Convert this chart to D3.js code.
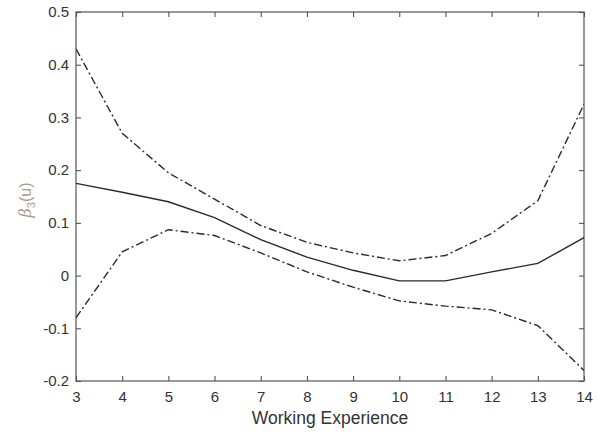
<!DOCTYPE html>
<html>
<head>
<meta charset="utf-8">
<script src="https://cdn.jsdelivr.net/npm/d3@7"></script>
<style>
  body { margin: 0; background: #fff; }
  text { font-family: "Liberation Sans", Arial, sans-serif; }
</style>
</head>
<body>
<svg id="chart" width="597" height="433"></svg>
<script>
// values
var years = [3, 4, 5, 6, 7, 8, 9, 10, 11, 12, 13, 14];
var estimate = [0.175, 0.158, 0.140, 0.110, 0.068, 0.035, 0.010, -0.010, -0.010, 0.007, 0.023, 0.072];
var upperBand = [0.430, 0.270, 0.195, 0.145, 0.095, 0.063, 0.043, 0.028, 0.038, 0.080, 0.142, 0.325];
var lowerBand = [-0.080, 0.045, 0.087, 0.076, 0.043, 0.007, -0.022, -0.048, -0.058, -0.065, -0.095, -0.180];
var yTicks = [-0.2, -0.1, 0, 0.1, 0.2, 0.3, 0.4, 0.5];
var xTicks = [3, 4, 5, 6, 7, 8, 9, 10, 11, 12, 13, 14];

var svg = d3.select("#chart");
// plot box (note: "top" is taken by window.top, so prefix these)
var boxLeft = 76, boxRight = 584, boxTop = 12, boxBottom = 381;

var x = d3.scaleLinear().domain([3, 14]).range([boxLeft, boxRight]);
var y = d3.scaleLinear().domain([-0.2, 0.5]).range([boxBottom, boxTop]);

var axisColor = "#555";
var tickLen = 5;

// box
svg.append("rect")
    .attr("x", boxLeft).attr("y", boxTop)
    .attr("width", boxRight - boxLeft).attr("height", boxBottom - boxTop)
    .attr("fill", "none").attr("stroke", axisColor).attr("stroke-width", 1.2);

// matlab style labels: plain hyphen, bare 0
function fmt(d) {
    if (d === 0) return "0";
    return d3.format(".1f")(d).replace("\u2212", "-");
}

// axes, ticks pointing inward (mirrored on top/right)
var axisB = d3.axisBottom(x).tickValues(xTicks).tickSizeInner(-tickLen).tickSizeOuter(0).tickPadding(10);
var axisT = d3.axisTop(x).tickValues(xTicks).tickSizeInner(-tickLen).tickSizeOuter(0).tickFormat("");
var axisL = d3.axisLeft(y).tickValues(yTicks).tickSizeInner(-tickLen).tickSizeOuter(0).tickPadding(7).tickFormat(fmt);
var axisR = d3.axisRight(y).tickValues(yTicks).tickSizeInner(-tickLen).tickSizeOuter(0).tickFormat("");

function styleAxis(g) {
    g.select(".domain").remove();
    g.selectAll(".tick line").attr("stroke", axisColor).attr("stroke-width", 1.1);
    g.selectAll(".tick text").attr("fill", "#333").style("font-size", "15px");
}

svg.append("g").attr("transform", "translate(0," + boxBottom + ")").call(axisB).call(styleAxis);
svg.append("g").attr("transform", "translate(0," + boxTop + ")").call(axisT).call(styleAxis);
svg.append("g").attr("transform", "translate(" + boxLeft + ",0)").call(axisL).call(styleAxis);
svg.append("g").attr("transform", "translate(" + boxRight + ",0)").call(axisR).call(styleAxis);

// lines
var line = d3.line()
    .x(function(d) { return x(d[0]); })
    .y(function(d) { return y(d[1]); });

function pairs(vals) {
    return years.map(function(yr, i) { return [yr, vals[i]]; });
}

svg.append("clipPath").attr("id", "plotclip")
    .append("rect").attr("x", boxLeft).attr("y", boxTop)
    .attr("width", boxRight - boxLeft).attr("height", boxBottom - boxTop);

var plot = svg.append("g").attr("clip-path", "url(#plotclip)");

[upperBand, lowerBand].forEach(function(band) {
    plot.append("path")
        .datum(pairs(band))
        .attr("d", line)
        .attr("fill", "none")
        .attr("stroke", "#2a2a2a")
        .attr("stroke-width", 1.4)
        .attr("stroke-dasharray", "8,3,2,3");
});

plot.append("path")
    .datum(pairs(estimate))
    .attr("d", line)
    .attr("fill", "none")
    .attr("stroke", "#2a2a2a")
    .attr("stroke-width", 1.4);

// titles
svg.append("text")
    .attr("x", (boxLeft + boxRight) / 2)
    .attr("y", 424)
    .attr("text-anchor", "middle")
    .attr("fill", "#333")
    .style("font-size", "17.5px")
    .text("Working Experience");

var ylab = svg.append("text")
    .attr("transform", "translate(31,200) rotate(-90)")
    .attr("text-anchor", "middle")
    .attr("fill", "#a89a88")
    .style("font-size", "16px");
ylab.append("tspan").style("font-style", "italic").style("font-family", "'DejaVu Serif', serif").text("β");
ylab.append("tspan").attr("dy", 4).style("font-size", "11px").text("3");
ylab.append("tspan").attr("dy", -4).text("(u)");
</script>
</body>
</html>
